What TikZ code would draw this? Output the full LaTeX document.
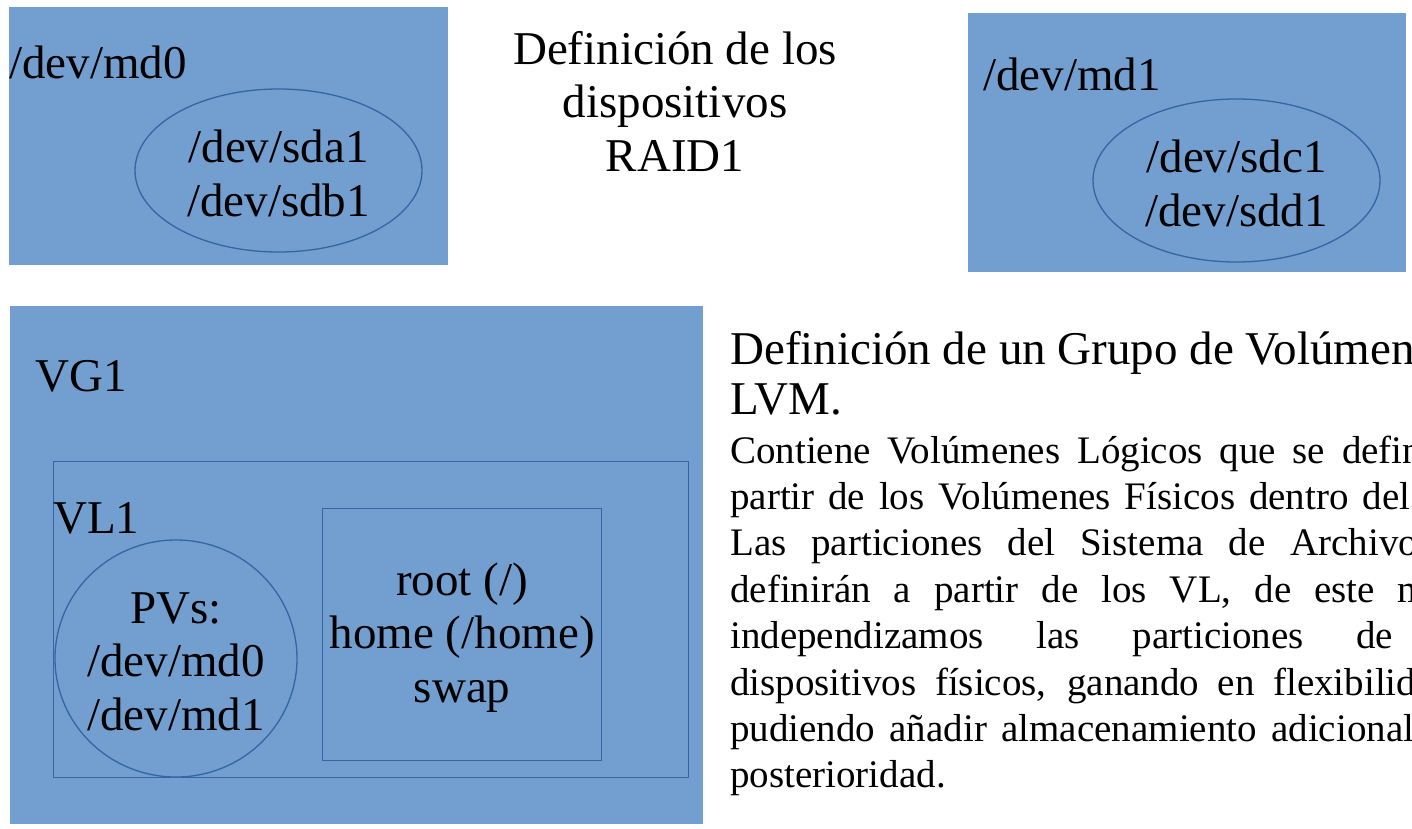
\documentclass[tikz,border=0pt]{standalone}
\usepackage{fontspec}
\setmainfont{Liberation Serif}
\usetikzlibrary{shapes.geometric}
\definecolor{rellenoazul}{RGB}{114,159,207}
\definecolor{bordeazul}{RGB}{52,101,164}

\begin{document}
\begin{tikzpicture}[x=1pt, y=-1pt,
    bloque/.style={fill=rellenoazul, draw=none, inner sep=0pt, anchor=north west},
    marco/.style={draw=bordeazul, line width=1.3pt, inner sep=0pt, anchor=north west},
    elipse/.style={ellipse, draw=bordeazul, line width=1.3pt, inner sep=0pt},
    etiqueta/.style={font=\fontsize{47}{53.5}\selectfont, inner sep=0pt, yshift=-3pt},
    cuerpo/.style={font=\fontsize{39}{46}\selectfont, inner sep=0pt, anchor=base west},
    encabezado/.style={font=\fontsize{47}{53}\selectfont, inner sep=0pt, anchor=base west}]

    % Límites de la figura
    \useasboundingbox (0,0) rectangle (1412,829);
    \clip (0,0) rectangle (1412,829);

    % Dispositivo /dev/md0
    \node[bloque, minimum width=439pt, minimum height=258pt] (md0) at (9,7) {};
    \node[elipse, minimum width=287pt, minimum height=163pt] (raid0) at (278.5,170.5) {};
    \node[etiqueta, anchor=base west] (md0lbl) at (9,76) {/dev/md0};
    \node[etiqueta, align=center] (md0discos) at (raid0) {/dev/sda1\\/dev/sdb1};

    % Título RAID1
    \node[etiqueta, align=center] (titraid) at (675,98) {Definición de los\\dispositivos\\RAID1};

    % Dispositivo /dev/md1
    \node[bloque, minimum width=438pt, minimum height=259pt] (md1) at (968,13) {};
    \node[elipse, minimum width=287pt, minimum height=163pt] (raid1) at (1236.5,180.5) {};
    \node[etiqueta, anchor=base west] (md1lbl) at (983,88) {/dev/md1};
    \node[etiqueta, align=center] (md1discos) at (raid1) {/dev/sdc1\\/dev/sdd1};

    % Grupo de volúmenes
    \node[bloque, minimum width=693pt, minimum height=518pt] (vg1) at (10,306) {};
    \node[etiqueta, anchor=base west] (vg1lbl) at (35,388) {VG1};
    \node[marco, minimum width=635pt, minimum height=316pt] (vl1) at (53,461) {};
    \node[etiqueta, anchor=base west] (vl1lbl) at (53,530) {VL1};
    \node[elipse, minimum width=242pt, minimum height=237pt] (pvs) at (176,658.5) {};
    \node[etiqueta, align=center] (pvtxt) at (pvs) {PVs:\\/dev/md0\\/dev/md1};
    \node[marco, minimum width=279pt, minimum height=252pt] (particiones) at (322,508) {};
    \node[etiqueta, align=center] (fstxt) at (particiones.center) {root (/)\\home (/home)\\swap};

    % Texto explicativo
    \node[encabezado] (enc1) at (730,364) {Definición de un Grupo de Volúmen};
    \node[encabezado] (enc2) at (730,414) {LVM.};
    \foreach \n/\w/\txt in {
        0/692/{Contiene Volúmenes Lógicos que se defin},
        1/680/{partir de los Volúmenes Físicos dentro del},
        2/688/{Las particiones del Sistema de Archivo},
        3/698/{definirán a partir de los VL, de este m},
        4/663/{independizamos las particiones de},
        5/686/{dispositivos físicos, ganando en flexibilid},
        6/684/{pudiendo añadir almacenamiento adicional}}
        \node[cuerpo] (linea\n) at (730,{463+46.4*\n}) {\makebox[\w pt][s]{\txt}};
    \node[cuerpo] (linea7) at (730,{463+46.4*7}) {posterioridad.};
\end{tikzpicture}
\end{document}
